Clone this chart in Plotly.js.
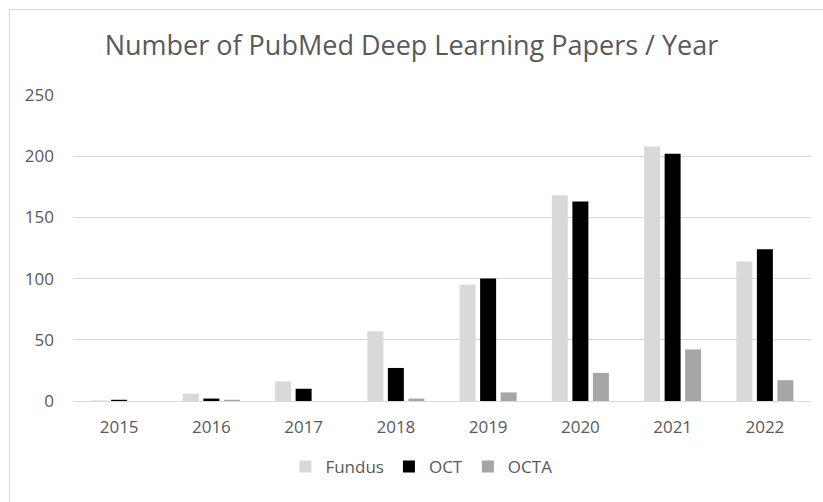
<!DOCTYPE html>
<html><head><meta charset="utf-8">
<script src="https://cdn.plot.ly/plotly-3.0.1.min.js"></script>
<style>body{margin:0;background:#fff}#chart{width:823px;height:502px}
#frame{position:absolute;left:9px;top:9px;width:830px;height:520px;border:1px solid #d9d9d9;pointer-events:none}</style>
</head><body>
<div id="chart"></div><div id="frame"></div>
<script>
const years = ['2015','2016','2017','2018','2019','2020','2021','2022'];
const fundus = [0.5, 6, 16, 57, 95, 168, 208, 114];
const oct = [1, 2, 10, 27, 100, 163, 202, 124];
const octa = [0, 1, 0, 2, 7, 23, 42, 17];
const yTicks = [0, 50, 100, 150, 200, 250];

const font = {family: 'Open Sans, sans-serif', color: '#595959'};
const traces = [
  {type:'bar', name:'Fundus', x:years, y:fundus, marker:{color:'#d9d9d9'}},
  {type:'bar', name:'OCT', x:years, y:oct, marker:{color:'#000000'}},
  {type:'bar', name:'OCTA', x:years, y:octa, marker:{color:'#a6a6a6'}}
];
const layout = {
  width:823, height:502,
  margin:{l:73, r:12, t:95, b:101, autoexpand:false},
  paper_bgcolor:'#fff', plot_bgcolor:'#fff',
  barmode:'group', bargap:0.333, bargroupgap:0.22,
  title:{text:'Number of PubMed Deep Learning Papers / Year', x:0.5, xanchor:'center', y:0.91, yanchor:'middle',
         font:{family:font.family, color:'#595959', size:27}},
  xaxis:{type:'category', showgrid:false, showline:false, ticks:'', tickfont:{family:font.family, color:'#595959', size:17}, ticklabelstandoff:14},
  yaxis:{range:[0,250], tickvals:yTicks, showgrid:true, gridcolor:'#d9d9d9', gridwidth:1, zeroline:true, zerolinecolor:'#d9d9d9', zerolinewidth:1,
         tickfont:{family:font.family, color:'#595959', size:17}, ticks:'', ticklabelstandoff:18, fixedrange:true},
  legend:{orientation:'h', x:0.512, xanchor:'center', xref:'container', yref:'container', y:0.07, yanchor:'middle', itemwidth:30,
          font:{family:font.family, color:'#595959', size:17}, traceorder:'normal'},
  showlegend:true
};
Plotly.newPlot('chart', traces, layout, {staticPlot:true, displayModeBar:false});
</script>
</body></html>
